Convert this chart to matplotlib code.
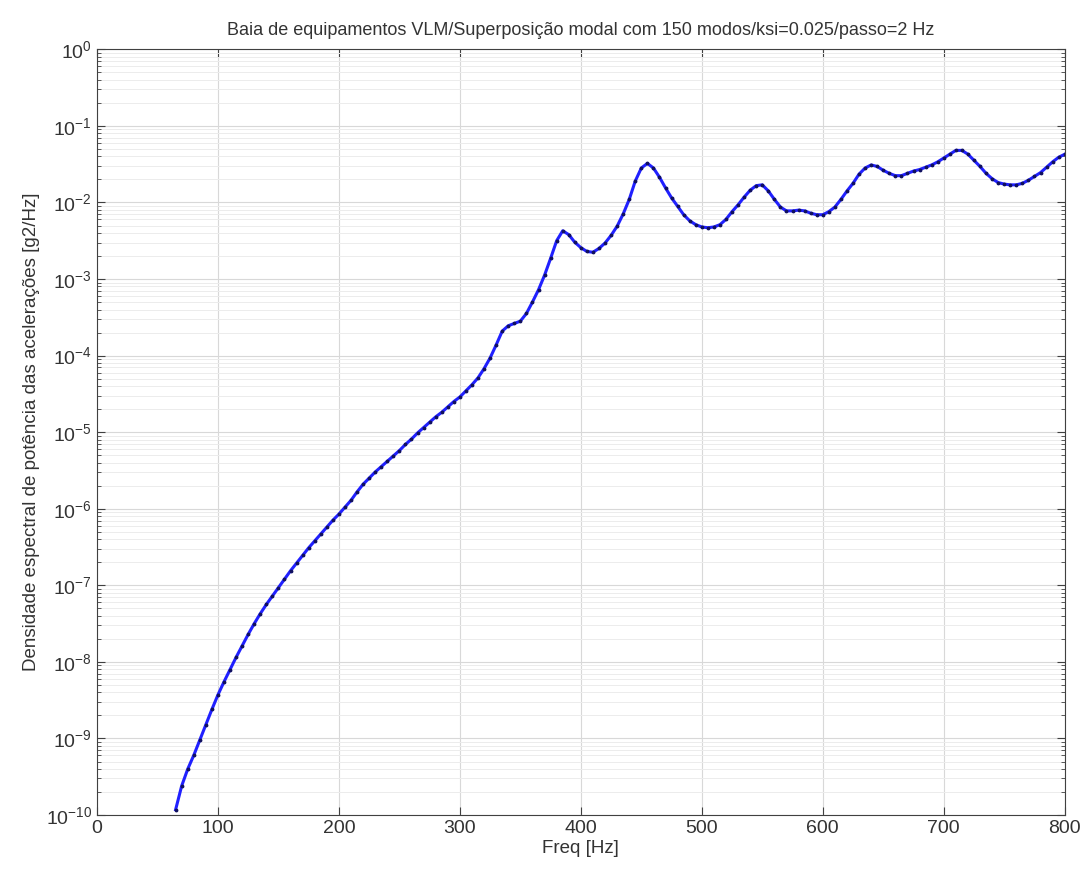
import numpy as np
import matplotlib
matplotlib.use("Agg")
import matplotlib.pyplot as plt
from matplotlib.ticker import LogLocator, MultipleLocator, NullFormatter

plt.rcParams['font.family'] = ['Liberation Sans', 'DejaVu Sans']

# frequencies [Hz] and log10 of the PSD
freq = np.arange(65, 801, 5)
log_psd = [
    -9.93, -9.62, -9.40, -9.22, -9.02, -8.82, -8.62, -8.43, -8.26, -8.10,
    -7.94, -7.79, -7.64, -7.50, -7.37, -7.25, -7.14, -7.03, -6.92, -6.81,
    -6.71, -6.61, -6.51, -6.42, -6.33, -6.24, -6.15, -6.07, -5.98, -5.89,
    -5.78, -5.68, -5.60, -5.52, -5.45, -5.38, -5.31, -5.24, -5.16, -5.09,
    -5.01, -4.94, -4.87, -4.80, -4.74, -4.67, -4.60, -4.54, -4.46, -4.38,
    -4.29, -4.17, -4.03, -3.86, -3.68, -3.61, -3.58, -3.55, -3.45, -3.30,
    -3.14, -2.95, -2.73, -2.50, -2.37, -2.42, -2.52, -2.59, -2.64, -2.65,
    -2.60, -2.53, -2.43, -2.31, -2.15, -1.96, -1.72, -1.55, -1.49, -1.55,
    -1.67, -1.81, -1.94, -2.05, -2.16, -2.24, -2.29, -2.32, -2.33, -2.32,
    -2.29, -2.22, -2.12, -2.03, -1.93, -1.84, -1.78, -1.77, -1.85, -1.96,
    -2.06, -2.11, -2.11, -2.10, -2.11, -2.14, -2.16, -2.16, -2.12, -2.06,
    -1.96, -1.85, -1.75, -1.63, -1.55, -1.51, -1.53, -1.58, -1.62, -1.65,
    -1.65, -1.62, -1.59, -1.57, -1.54, -1.51, -1.47, -1.42, -1.37, -1.32,
    -1.32, -1.37, -1.45, -1.53, -1.62, -1.69, -1.74, -1.76, -1.77, -1.77,
    -1.75, -1.71, -1.66, -1.61, -1.54, -1.47, -1.41, -1.37,
]
psd = 10.0 ** np.array(log_psd)

fig = plt.figure(figsize=(10.91, 8.73), dpi=100)
ax = fig.add_axes([0.0889, 0.0664, 0.8870, 0.8771])

ax.semilogy(freq, psd, color='#2020ff', linewidth=2.2, marker='.',
            markersize=3.5, markerfacecolor='#101060', markeredgecolor='#101060')

ax.set_xlim(0, 800)
ax.set_ylim(1e-10, 1e0)
ax.xaxis.set_major_locator(MultipleLocator(100))
ax.yaxis.set_major_locator(LogLocator(base=10, numticks=20))
ax.yaxis.set_minor_locator(LogLocator(base=10, subs=np.arange(2, 10), numticks=20))
ax.yaxis.set_minor_formatter(NullFormatter())

ax.grid(True, which='major', color='#d8d8d8', linewidth=0.8)
ax.grid(True, which='minor', axis='y', color='#ececec', linewidth=0.7)
ax.set_axisbelow(True)

ax.tick_params(which='both', direction='in', top=True, right=True,
               colors='#404040', labelcolor='#333333', labelsize=14)
ax.tick_params(which='major', length=6)
ax.tick_params(which='minor', length=3)
for s in ax.spines.values():
    s.set_color('#404040')

ax.set_title('Baia de equipamentos VLM/Superposição modal com 150 modos/ksi=0.025/passo=2 Hz',
             fontsize=13, color='#333333', pad=10)
ax.set_xlabel('Freq [Hz]', fontsize=13.5, color='#333333', labelpad=2)
ax.set_ylabel('Densidade espectral de potência das acelerações [g2/Hz]',
              fontsize=13.5, color='#333333', labelpad=4)

fig.savefig('out.png', dpi=100)
